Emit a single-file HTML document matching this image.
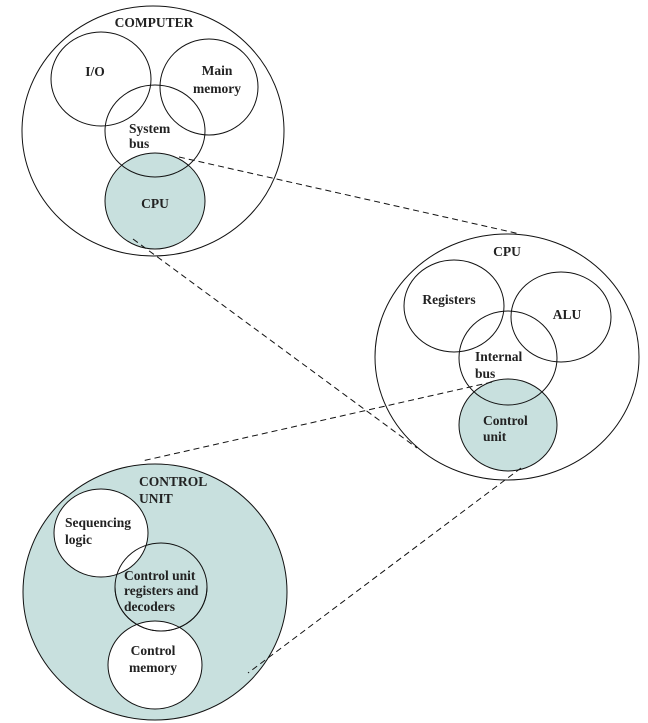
<!DOCTYPE html>
<html><head><meta charset="utf-8"><style>
html,body{margin:0;padding:0;background:#fff;}
svg{display:block;}
text{font-family:"Liberation Serif",serif;font-weight:bold;font-size:13.5px;fill:#222;}
</style></head><body>
<svg width="648" height="723" viewBox="0 0 648 723" xmlns="http://www.w3.org/2000/svg">
<g fill="none" stroke="#111" stroke-width="1">
<ellipse cx="153" cy="131" rx="131" ry="125" fill="#fff"/>
<ellipse cx="155" cy="201" rx="50" ry="48" fill="#c8e0de"/>
<ellipse cx="101" cy="79" rx="50" ry="47"/>
<ellipse cx="209" cy="87" rx="49" ry="48"/>
<ellipse cx="155" cy="131" rx="50" ry="46"/>

<ellipse cx="507" cy="357" rx="132" ry="123" fill="#fff"/>
<ellipse cx="508" cy="425" rx="49" ry="46" fill="#c8e0de"/>
<ellipse cx="454" cy="306" rx="50" ry="46"/>
<ellipse cx="561" cy="317" rx="50" ry="45"/>
<ellipse cx="508" cy="358" rx="49" ry="47"/>

<ellipse cx="155" cy="592" rx="132" ry="128" fill="#c8e0de"/>
<ellipse cx="101" cy="533" rx="47" ry="44" fill="#fff"/>
<ellipse cx="155" cy="665" rx="47" ry="44" fill="#fff"/>
<ellipse cx="161" cy="587" rx="46" ry="44" fill="none"/>
<path d="M115,587 a46,44 0 0 0 92,0" fill="none"/>
</g>
<g stroke="#111" stroke-width="1" stroke-dasharray="6,4" fill="none">
<line x1="179" y1="157" x2="520" y2="234"/>
<line x1="133" y1="239" x2="417" y2="448"/>
<line x1="492" y1="382" x2="142" y2="461"/>
<line x1="521" y1="468" x2="248" y2="673"/>
</g>
<g text-anchor="middle">
<text x="154" y="27">COMPUTER</text>
<text x="95" y="76">I/O</text>
<text x="217" y="75">Main</text>
<text x="217" y="93">memory</text>
<text x="155" y="208">CPU</text>
<text x="507" y="256">CPU</text>
<text x="449" y="304">Registers</text>
<text x="567" y="319">ALU</text>
<text x="153" y="655">Control</text>
<text x="153" y="672">memory</text>
</g>
<text x="129" y="133">System</text>
<text x="129" y="148">bus</text>
<text x="475" y="361">Internal</text>
<text x="475" y="378">bus</text>
<text x="483" y="425">Control</text>
<text x="483" y="441">unit</text>
<text x="139" y="486">CONTROL</text>
<text x="139" y="503">UNIT</text>
<text x="65" y="527">Sequencing</text>
<text x="65" y="544">logic</text>
<text x="124" y="580">Control unit</text>
<text x="124" y="595">registers and</text>
<text x="124" y="611">decoders</text>
</svg>
</body></html>
